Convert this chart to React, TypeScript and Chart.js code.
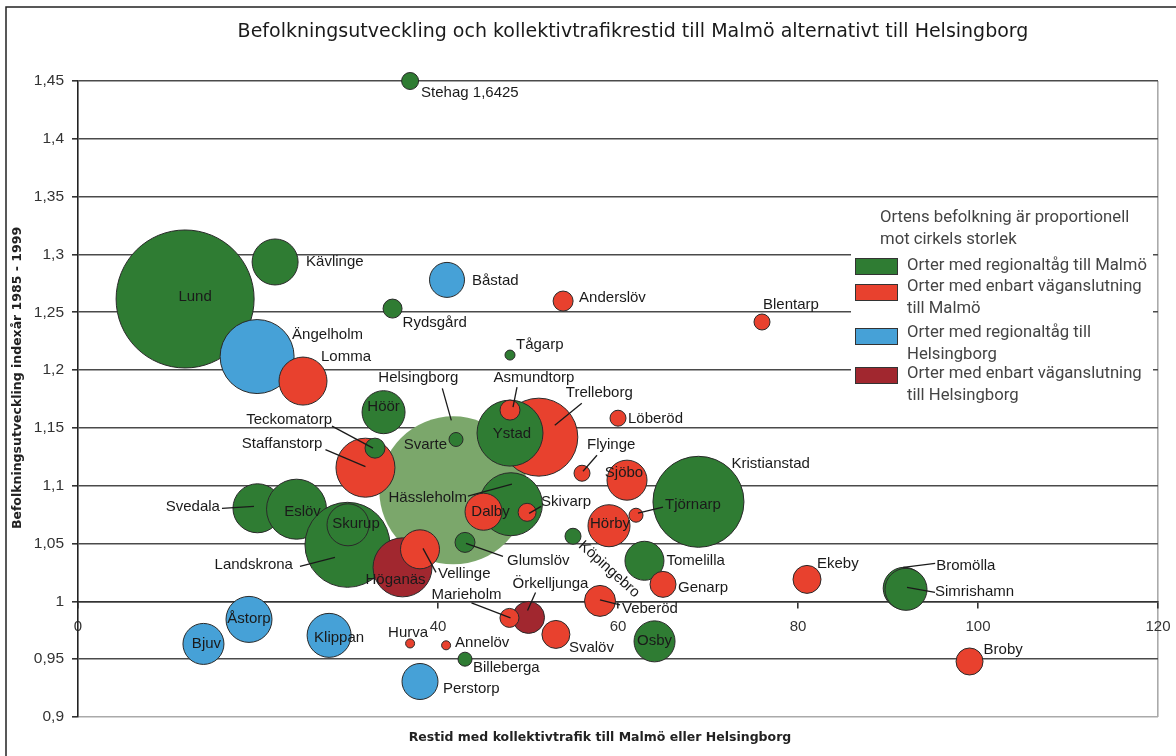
import React, { useEffect, useRef } from 'react';
import { Chart, registerables } from 'chart.js';

Chart.register(...registerables);

// ---------- DATA ----------
// Drawing order matters (later towns are drawn on top of earlier ones)
const towns = [
  'Helsingborg', 'Lund', 'Ängelholm', 'Lomma', 'Kävlinge', 'Båstad', 'Rydsgård', 'Stehag',
  'Anderslöv', 'Blentarp', 'Tågarp', 'Svarte', 'Höör', 'Staffanstorp', 'Teckomatorp',
  'Trelleborg', 'Ystad', 'Asmundtorp', 'Löberöd', 'Flyinge', 'Sjöbo', 'Kristianstad',
  'Tjörnarp', 'Hässleholm', 'Dalby', 'Skivarp', 'Hörby', 'Köpingebro', 'Glumslöv',
  'Tomelilla', 'Genarp', 'Veberöd', 'Svedala', 'Eslöv', 'Landskrona', 'Skurup', 'Höganäs',
  'Vellinge', 'Örkelljunga', 'Marieholm', 'Svalöv', 'Åstorp', 'Klippan', 'Bjuv', 'Hurva',
  'Annelöv', 'Billeberga', 'Perstorp', 'Osby', 'Ekeby', 'Bromölla', 'Simrishamn', 'Broby',
];

// Restid med kollektivtrafik (minuter)
const travelTime = [
  41.7, 11.9, 19.9, 25.0, 21.9, 41.0, 34.95, 36.9,
  53.9, 76.0, 48.0, 42.0, 33.95, 31.94, 33.0,
  51.2, 48.0, 48.0, 60.0, 56.0, 61.0, 68.94,
  62.0, 48.1, 45.06, 49.9, 59.0, 55.0, 43.0,
  62.94, 65.0, 58.0, 19.94, 24.28, 29.94, 30.0, 36.06,
  38.0, 50.06, 47.94, 53.1, 19.0, 27.9, 13.94, 36.9,
  40.9, 43.0, 38.0, 64.06, 81.0, 91.8, 92.0, 99.06,
];

// Befolkningsutveckling indexår 1985 - 1999
const popIndex = [
  1.096, 1.2615, 1.2117, 1.1905, 1.2935, 1.278, 1.2532, 1.6425,
  1.2597, 1.2416, 1.213, 1.14, 1.1636, 1.1156, 1.1325,
  1.142, 1.1455, 1.1654, 1.1584, 1.1108, 1.1048, 1.0861,
  1.0745, 1.084, 1.0775, 1.077, 1.0654, 1.0563, 1.051,
  1.0351, 1.0147, 1.0004, 1.0805, 1.0797, 1.0489, 1.0662, 1.0294,
  1.045, 0.9861, 0.9857, 0.9714, 0.9844, 0.9706, 0.9632, 0.9636,
  0.962, 0.95, 0.9307, 0.9654, 1.019, 1.0113, 1.0104, 0.948,
];

// Bubble size (proportional to population)
const bubbleSize = [
  74, 69, 37, 24, 23, 17.5, 9.5, 8.5,
  10, 8, 5, 7, 21.5, 29.5, 10,
  39, 33, 10, 8, 8, 20, 45.5,
  7, 31.5, 18.5, 9, 21, 8, 10,
  19.5, 13, 15.5, 24.5, 30, 42.5, 21, 29.5,
  19.5, 16, 9.5, 14, 23, 22, 20.5, 4.5,
  4.5, 7, 18, 20.5, 14, 21, 21, 13.5,
];

// Category: T = regionaltåg Malmö, V = väganslutning Malmö, H = regionaltåg Helsingborg,
// R = väganslutning Helsingborg, C = Helsingborg (centre)
const category = [
  'C', 'T', 'H', 'V', 'T', 'H', 'T', 'T',
  'V', 'V', 'T', 'T', 'T', 'V', 'T',
  'V', 'T', 'V', 'V', 'V', 'V', 'T',
  'V', 'T', 'V', 'V', 'V', 'T', 'T',
  'T', 'V', 'V', 'T', 'T', 'T', 'T', 'R',
  'V', 'R', 'V', 'V', 'H', 'H', 'H', 'V',
  'V', 'T', 'H', 'T', 'V', 'T', 'T', 'V',
];

const yTickValues = [0.9, 0.95, 1, 1.05, 1.1, 1.15, 1.2, 1.25, 1.3, 1.35, 1.4, 1.45];
const yTickLabels = ['0,9', '0,95', '1', '1,05', '1,1', '1,15', '1,2', '1,25', '1,3', '1,35', '1,4', '1,45'];
const xTickValues = [0, 20, 40, 60, 80, 100, 120];
const xTickLabels = ['0', '20', '40', '60', '80', '100', '120'];

const chartTitle = 'Befolkningsutveckling och kollektivtrafikrestid till Malmö alternativt till Helsingborg';
const xTitle = 'Restid med kollektivtrafik till Malmö eller Helsingborg';
const yTitle = 'Befolkningsutveckling indexår 1985 - 1999';

const legendTitle = ['Ortens befolkning är proportionell', 'mot cirkels storlek'];
const legendCategories = ['T', 'V', 'H', 'R'];
const legendTexts = [
  ['Orter med regionaltåg till Malmö'],
  ['Orter med enbart väganslutning', 'till Malmö'],
  ['Orter med regionaltåg till', 'Helsingborg'],
  ['Orter med enbart väganslutning', 'till Helsingborg'],
];

// ---------- STYLE ----------
const colors: Record<string, string> = {
  T: '#2f7c33',
  V: '#e8412e',
  H: '#46a1d7',
  R: '#a1272f',
  C: '#7ba76b',
};

const Y_MIN = 0.9;
const Y_MAX = 1.45;

// Label placement relative to bubble centre (pixels)
type LabelPos = { dx: number; dy: number; align: CanvasTextAlign; rot?: number; line?: number[] };
const labelLayout: Record<string, LabelPos> = {
  Helsingborg: { dx: -75, dy: -112, align: 'left', line: [-11, -102, -2, -70] },
  Lund: { dx: 10, dy: -2, align: 'center' },
  'Ängelholm': { dx: 35, dy: -22, align: 'left' },
  Lomma: { dx: 18, dy: -24, align: 'left' },
  'Kävlinge': { dx: 31, dy: 0, align: 'left' },
  'Båstad': { dx: 25, dy: 1, align: 'left' },
  'Rydsgård': { dx: 10, dy: 14, align: 'left' },
  Stehag: { dx: 11, dy: 12, align: 'left' },
  'Anderslöv': { dx: 16, dy: -3, align: 'left' },
  Blentarp: { dx: 1, dy: -17, align: 'left' },
  'Tågarp': { dx: 6, dy: -10, align: 'left' },
  Svarte: { dx: -9, dy: 5, align: 'right' },
  'Höör': { dx: 0, dy: -5, align: 'center' },
  Staffanstorp: { dx: -43, dy: -24, align: 'right', line: [-40, -18, 0, -1] },
  Teckomatorp: { dx: -43, dy: -28, align: 'right', line: [-43, -22, -2, 0] },
  Trelleborg: { dx: 27, dy: -44, align: 'left', line: [43, -34, 16, -12] },
  Ystad: { dx: 2, dy: 1, align: 'center' },
  Asmundtorp: { dx: 24, dy: -32, align: 'center', line: [7, -23, 3, -3] },
  'Löberöd': { dx: 10, dy: 1, align: 'left' },
  Flyinge: { dx: 5, dy: -28, align: 'left', line: [15, -18, 1, -2] },
  'Sjöbo': { dx: -3, dy: -7, align: 'center' },
  Kristianstad: { dx: 33, dy: -38, align: 'left' },
  'Tjörnarp': { dx: 29, dy: -10, align: 'left', line: [27, -8, 2, -2] },
  'Hässleholm': { dx: -44, dy: -6, align: 'right', line: [-43, -8, 1, -20] },
  Dalby: { dx: 7, dy: 0, align: 'center' },
  Skivarp: { dx: 14, dy: -10, align: 'left', line: [14, -6, 2, 1] },
  'Hörby': { dx: 1, dy: -2, align: 'center' },
  'Köpingebro': { dx: 36, dy: 33, align: 'center', rot: 42 },
  'Glumslöv': { dx: 42, dy: 18, align: 'left', line: [38, 14, 1, 1] },
  Tomelilla: { dx: 22, dy: 0, align: 'left' },
  Genarp: { dx: 15, dy: 3, align: 'left' },
  'Veberöd': { dx: 22, dy: 8, align: 'left', line: [20, 4, 0, -1] },
  Svedala: { dx: -37.5, dy: -1, align: 'right', line: [-35.5, 0, -3.5, -2] },
  'Eslöv': { dx: 6, dy: 3, align: 'center' },
  Landskrona: { dx: -54.5, dy: 20.5, align: 'right', line: [-47.5, 21.5, -12.5, 12.5] },
  Skurup: { dx: 8, dy: -1, align: 'center' },
  'Höganäs': { dx: -7, dy: 12, align: 'center' },
  Vellinge: { dx: 18, dy: 25, align: 'left', line: [16, 23, 3, -1] },
  'Örkelljunga': { dx: -16, dy: -34, align: 'left', line: [7, -25, -1, -7] },
  Marieholm: { dx: -78, dy: -23, align: 'left', line: [-38, -15, 1, 0] },
  'Svalöv': { dx: 13, dy: 13, align: 'left' },
  'Åstorp': { dx: 0, dy: -1, align: 'center' },
  Klippan: { dx: 10, dy: 2, align: 'center' },
  Bjuv: { dx: 3, dy: 0, align: 'center' },
  Hurva: { dx: 18, dy: -11, align: 'right' },
  'Annelöv': { dx: 9, dy: -2, align: 'left' },
  Billeberga: { dx: 8, dy: 9, align: 'left' },
  Perstorp: { dx: 23, dy: 7, align: 'left' },
  Osby: { dx: 0, dy: -1, align: 'center' },
  Ekeby: { dx: 10, dy: -16, align: 'left' },
  'Bromölla': { dx: 32, dy: -22, align: 'left', line: [31, -25, -1, -21] },
  Simrishamn: { dx: 29, dy: 3, align: 'left', line: [29, 3, 1, -2] },
  Broby: { dx: 14, dy: -12, align: 'left' },
};

const fmt = (v: number) => String(Number(v.toFixed(4))).replace('.', ',');

const framePlugin = {
  id: 'frame',
  beforeDraw(chart: any) {
    const { ctx, width, height } = chart;
    ctx.save();
    ctx.fillStyle = '#ffffff';
    ctx.fillRect(0, 0, width, height);
    ctx.strokeStyle = '#222';
    ctx.lineWidth = 1.5;
    ctx.beginPath();
    ctx.moveTo(6, height);
    ctx.lineTo(6, 7);
    ctx.lineTo(width, 7);
    ctx.stroke();
    ctx.restore();
  },
  afterDraw(chart: any) {
    const ctx = chart.ctx;
    ctx.save();
    ctx.textAlign = 'center';
    ctx.textBaseline = 'middle';
    ctx.fillStyle = '#1a1a1a';
    ctx.font = '19px "DejaVu Sans", sans-serif';
    ctx.fillText(chartTitle, 633, 32);
    ctx.fillStyle = '#222';
    ctx.font = 'bold 12.5px "DejaVu Sans", sans-serif';
    ctx.fillText(xTitle, 600, 738);
    ctx.translate(18, 378);
    ctx.rotate(-Math.PI / 2);
    ctx.fillText(yTitle, 0, 0);
    ctx.restore();
  },
};

const labelPlugin = {
  id: 'townLabels',
  afterDatasetsDraw(chart: any) {
    const ctx = chart.ctx;
    const meta = chart.getDatasetMeta(0);
    ctx.save();
    ctx.font = '15px "Liberation Sans", Arial, sans-serif';
    ctx.fillStyle = '#1a1a1a';
    ctx.strokeStyle = '#1a1a1a';
    ctx.lineWidth = 1.3;
    towns.forEach((name, i) => {
      const el = meta.data[i];
      const L = labelLayout[name];
      if (!el || !L) return;
      const x = el.x;
      const y = el.y;
      if (L.line) {
        ctx.beginPath();
        ctx.moveTo(x + L.line[0], y + L.line[1]);
        ctx.lineTo(x + L.line[2], y + L.line[3]);
        ctx.stroke();
      }
      const text = popIndex[i] > Y_MAX ? `${name} ${fmt(popIndex[i])}` : name;
      ctx.save();
      ctx.translate(x + L.dx, y + L.dy);
      if (L.rot) ctx.rotate((L.rot * Math.PI) / 180);
      ctx.textAlign = L.align;
      ctx.textBaseline = 'middle';
      ctx.fillText(text, 0, 0);
      ctx.restore();
    });
    ctx.restore();
  },
};

const legendPlugin = {
  id: 'customLegend',
  afterDraw(chart: any) {
    const ctx = chart.ctx;
    ctx.save();
    ctx.fillStyle = '#ffffff';
    ctx.fillRect(851, 202, 302, 214);
    ctx.font = '16.7px Roboto, "Noto Sans", sans-serif';
    ctx.fillStyle = '#444';
    ctx.textAlign = 'left';
    ctx.textBaseline = 'middle';
    ctx.fillText(legendTitle[0], 880, 218);
    ctx.fillText(legendTitle[1], 880, 240);
    const swatchTops = [258, 284, 328, 367];
    const textTops = [266, 287, 333, 374];
    legendCategories.forEach((c, i) => {
      ctx.fillStyle = colors[c];
      ctx.fillRect(855.5, swatchTops[i] + 0.5, 42, 16);
      ctx.strokeStyle = '#333';
      ctx.lineWidth = 1;
      ctx.strokeRect(855.5, swatchTops[i] + 0.5, 42, 16);
      ctx.fillStyle = '#444';
      legendTexts[i].forEach((t, j) => {
        ctx.fillText(t, 907, textTops[i] + j * 22);
      });
    });
    ctx.restore();
  },
};

export default function App() {
  const canvasRef = useRef<HTMLCanvasElement | null>(null);

  useEffect(() => {
    document.body.style.margin = '0';
    const canvas = canvasRef.current;
    if (!canvas) return;

    const points = towns.map((_, i) => ({
      x: travelTime[i],
      y: Math.min(popIndex[i], Y_MAX),
      r: bubbleSize[i],
    }));

    const chart = new Chart(canvas, {
      type: 'bubble',
      data: {
        datasets: [
          {
            label: 'Orter',
            data: points,
            backgroundColor: category.map((c) => colors[c]),
            borderColor: category.map((c) => (c === 'C' ? 'rgba(0,0,0,0)' : '#2a2a2a')),
            borderWidth: 1,
            hoverBorderWidth: 1,
            clip: false as any,
          },
        ],
      },
      options: {
        responsive: false,
        animation: false,
        devicePixelRatio: 1,
        events: [],
        layout: { autoPadding: false, padding: { left: 0, right: 18, top: 81, bottom: 39 } },
        plugins: {
          legend: { display: false },
          tooltip: { enabled: false },
          title: { display: false },
        },
        scales: {
          x: {
            type: 'linear',
            position: { y: 1 } as any,
            min: 0,
            max: 120,
            afterBuildTicks: (scale: any) => {
              scale.ticks = xTickValues.map((v) => ({ value: v }));
            },
            afterFit: (scale: any) => {
              scale.paddingLeft = 0;
              scale.paddingRight = 0;
            },
            ticks: {
              color: '#333',
              font: { family: '"Liberation Sans", Arial, sans-serif', size: 15 },
              padding: 10,
              maxRotation: 0,
              callback: (v: any) => {
                const idx = xTickValues.indexOf(Number(v));
                return idx >= 0 ? xTickLabels[idx] : '';
              },
            },
            grid: {
              drawOnChartArea: true,
              color: (ctx: any) => (ctx.tick && ctx.tick.value === 120 ? '#aaaaaa' : 'rgba(0,0,0,0)'),
              tickColor: '#333',
              tickLength: 6,
              lineWidth: 1.6,
            },
            border: { display: true, color: '#333', width: 1.6 },
          },
          y: {
            type: 'linear',
            position: 'left',
            min: Y_MIN,
            max: Y_MAX,
            afterBuildTicks: (scale: any) => {
              scale.ticks = yTickValues.map((v) => ({ value: v }));
            },
            afterFit: (scale: any) => {
              scale.width = 78;
            },
            ticks: {
              color: '#333',
              font: { family: '"Liberation Sans", Arial, sans-serif', size: 15.5 },
              padding: 8,
              callback: (v: any) => {
                const n = Number(v);
                let best = 0;
                yTickValues.forEach((tv, i) => {
                  if (Math.abs(tv - n) < Math.abs(yTickValues[best] - n)) best = i;
                });
                return yTickLabels[best];
              },
            },
            grid: {
              color: (ctx: any) =>
                ctx.tick && Math.abs(ctx.tick.value - Y_MIN) < 1e-6 ? '#aaaaaa' : '#4a4a4a',
              tickColor: '#333',
              tickLength: 6,
              lineWidth: 1.6,
            },
            border: { display: true, color: '#222', width: 1.6 },
            title: { display: false },
          },
        },
      },
      plugins: [framePlugin, labelPlugin, legendPlugin],
    } as any);

    return () => {
      chart.destroy();
    };
  }, []);

  return (
    <div style={{ width: 1176, height: 756, position: 'relative' }}>
      <canvas ref={canvasRef} width={1176} height={756} style={{ display: 'block' }} />
    </div>
  );
}
